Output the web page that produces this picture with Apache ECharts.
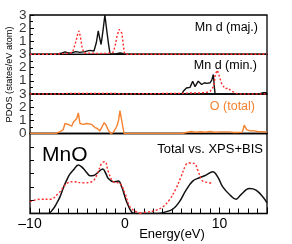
<!DOCTYPE html>
<html><head><meta charset="utf-8">
<script src="https://cdn.jsdelivr.net/npm/echarts@6/dist/echarts.min.js"></script>
<style>html,body{margin:0;padding:0;background:#fff}#c{width:292px;height:244px}</style>
</head><body><div id="c"></div>
<script>
// ---- data (energy in eV, PDOS) ----
const energyTicks = [-10, 0, 10];
const energyTickLabels = ['\u201310', '0', '10'];
const pdosTicks = [0, 1, 2, 3];

const mnMajCalc = [[-10,0],[-7.2,0],[-7.0,0.03],[-6.6,0.1],[-6.3,0.18],[-6.0,0.1],[-5.6,0.12],[-5.15,0.2],[-4.75,0.15],[-4.2,0.2],[-3.7,0.3],[-3.25,0.25],[-3.0,0.9],[-2.8,1.78],[-2.67,1.3],[-2.5,0.75],[-2.3,1.8],[-2.1,3.0],[-1.9,1.8],[-1.72,0.8],[-1.56,0.05],[-1.0,0.03],[-0.5,0.1],[0,0.02],[0.3,0],[15,0]];
const mnMajRef = [[-10,0],[-7.2,0],[-6.8,0.05],[-6.0,0.06],[-5.5,0.15],[-5.15,1.0],[-4.95,1.6],[-4.83,1.78],[-4.67,1.3],[-4.5,0.5],[-4.3,0.1],[-3.5,0.08],[-2.5,0.06],[-1.5,0.08],[-1.24,0.15],[-1.03,0.6],[-0.82,1.4],[-0.6,1.9],[-0.43,2.05],[-0.3,1.6],[-0.14,0.6],[-0.03,0.05],[0.2,0],[15,0]];

const mnMinCalc = [[-10,0],[-7,0],[-6,0.03],[-2,0.03],[0,0],[6.0,0],[6.17,0.2],[6.5,0.45],[6.88,0.5],[7.16,0.97],[7.41,0.55],[7.75,0.97],[8.11,0.72],[8.4,0.85],[8.64,0.8],[9.0,0.85],[9.17,1.05],[9.34,1.47],[9.45,0.5],[9.52,0.05],[12,0.03],[14.3,0.05],[14.6,0.1],[15,0.1]];
const mnMinRef = [[-10,0],[-7,0],[-6,0.04],[-1,0.04],[0,0],[6,0.05],[7,0.08],[8,0.08],[8.6,0.12],[9.0,0.2],[9.4,0.6],[9.55,1.5],[9.76,1.8],[9.95,1.4],[10.2,0.8],[10.57,0.4],[10.9,0.45],[11.2,0.25],[11.4,0.1],[11.8,0.03],[12.2,0],[15,0]];

const oTotal = [[-10,0],[-7.3,0],[-7.1,0.05],[-6.8,0.15],[-6.49,0.3],[-6.31,0.76],[-5.96,0.69],[-5.78,0.76],[-5.6,0.55],[-5.43,0.86],[-5.25,0.76],[-5.07,1.14],[-4.9,1.57],[-4.73,0.76],[-4.38,0.69],[-4.02,0.76],[-3.49,0.69],[-3.32,0.76],[-3.14,0.45],[-2.9,0.38],[-2.62,0.2],[-2.44,0.25],[-2.19,0.82],[-1.98,0.64],[-1.74,0.25],[-1.49,0],[-1.21,0.08],[-0.85,0.53],[-0.66,1.0],[-0.51,1.73],[-0.33,1.0],[-0.08,0],[6.0,0],[6.2,0.1],[7.0,0.15],[7.5,0.1],[8.0,0.13],[8.5,0.1],[9.0,0.15],[9.5,0.1],[10.0,0.12],[11.0,0.12],[11.5,0.08],[12.4,0.1],[12.6,0.63],[12.85,0.3],[13.2,0.2],[13.5,0.22],[14,0.15],[15,0.12]];

const totalCalc = [[-10,0],[-8.1,0],[-7.6,0.3],[-7.2,0.75],[-6.84,1.25],[-6.5,1.9],[-6.13,2.5],[-5.8,2.95],[-5.43,3.26],[-4.9,3.64],[-4.38,3.38],[-4.0,3.05],[-3.67,2.83],[-3.3,2.85],[-2.96,3.0],[-2.33,3.34],[-2.0,3.0],[-1.74,2.63],[-1.21,2.38],[-0.69,2.43],[-0.33,2.0],[0.2,0.87],[0.73,0.1],[1.2,0],[3.5,0],[4.3,0.12],[5.05,0.32],[5.75,0.87],[6.46,1.75],[7.16,2.43],[7.86,2.68],[8.57,2.88],[9.27,3.13],[9.8,2.75],[10.33,2.0],[11.2,1.32],[11.73,1.07],[12.26,1.42],[13.13,1.87],[13.84,1.75],[14.55,1.25],[15,0.8]];
const xps = [[-10,0.87],[-8.95,1.07],[-7.89,1.07],[-7.01,1.5],[-6.13,2.25],[-5.43,2.38],[-4.38,2.3],[-3.49,2.38],[-2.96,2.88],[-2.44,3.76],[-2.09,3.89],[-1.74,3.13],[-1.21,2.38],[-0.51,2.25],[0.02,1.5],[0.55,0.5],[1.26,0.1],[1.6,0.02]];
const bis = [[1.6,0.02],[2.24,0.1],[3.29,0.24],[4.0,0.5],[4.69,1.0],[5.4,1.87],[5.93,2.75],[6.46,3.68],[6.74,3.79],[7.33,3.75],[7.69,3.26],[8.22,2.43],[8.74,2.33],[9.27,2.25]];

// ---- chart ----
const FONT = 'Liberation Sans, Arial, sans-serif';
const BLACK = '#111', RED = '#ff2a2a', ORANGE = '#f5822f';
const L = 30, W = 237;
const gridBoxes = [
  {left:L, width:W, top:15, height:39.3},
  {left:L, width:W, top:54.3, height:39.7},
  {left:L, width:W, top:94, height:39.5},
  {left:L, width:W, top:133.5, height:80}
];
const grids = gridBoxes.map(g => Object.assign({show:true, borderColor:'#000', borderWidth:1.3, backgroundColor:'transparent'}, g));

const xAxes = grids.map((g,i) => ({
  gridIndex:i, type:'value', position:'bottom', min:-10, max:15, interval:10,
  axisLine:{show:false, onZero:false}, splitLine:{show:false},
  axisTick: i===3 ? {show:true, inside:true, length:6, lineStyle:{color:'#000'}} : {show:false},
  minorTick: i===3 ? {show:true, splitNumber:10, length:5, lineStyle:{color:'#000'}} : {show:false},
  axisLabel: i===3 ? {show:true, showMaxLabel:false, margin:4, fontFamily:FONT, fontSize:14, color:'#000',
    formatter: v => energyTickLabels[energyTicks.indexOf(v)] ?? ''} : {show:false}
}));

const yAxes = grids.map((g,i) => (i<3 ? {
  gridIndex:i, type:'value', position:'left', min:pdosTicks[0], max:pdosTicks[pdosTicks.length-1], interval:1,
  axisLine:{show:false, onZero:false}, splitLine:{show:false},
  axisTick:{show:true, inside:true, length:4, lineStyle:{color:'#000', width:1}},
  minorTick:{show:true, splitNumber:2, length:3, lineStyle:{color:'#000', width:1}},
  axisLabel:{show:false}
} : {
  gridIndex:i, type:'value', position:'left', min:0, max:6, interval:1,
  axisLine:{show:false, onZero:false}, splitLine:{show:false},
  axisTick:{show:true, inside:true, length:4, lineStyle:{color:'#000', width:1}},
  axisLabel:{show:false}
}));

function line(data, gi, color, dashed, smooth, w) {
  return {type:'line', xAxisIndex:gi, yAxisIndex:gi, data, symbol:'none', smooth: smooth||false,
    clip:true, animation:false,
    lineStyle:{color, width: w || 1.4, type: dashed ? [2,2] : 'solid'}};
}

// y tick labels: placed through each panel's own scales, at the left edge (E = -10)
function tickLabels(gi) {
  const vals = gi === 2 ? pdosTicks : pdosTicks.slice(1);
  return {type:'scatter', xAxisIndex:gi, yAxisIndex:gi, clip:false, silent:true, z:50,
    data: vals.map(v => [energyTicks[0], v]),
    symbol:'circle', symbolSize:1, itemStyle:{color:'rgba(0,0,0,0)'},
    label:{show:true, position:'left', distance:3, formatter: p => String(p.value[1]),
      fontFamily:FONT, fontSize:13.5, color:'#000'},
    labelLayout:{hideOverlap:false}};
}

const txt = (text, x, y, opts) => ({type:'text', x, y, z:100, silent:true,
  style:Object.assign({text, fontFamily:FONT, fontSize:12.5, fill:'#000', textAlign:'right', textVerticalAlign:'middle'}, opts||{})});

const chart = echarts.init(document.getElementById('c'), null, {renderer:'canvas'});
chart.setOption({
  animation:false,
  grid: grids, xAxis: xAxes, yAxis: yAxes,
  series: [
    line(mnMajCalc,0,BLACK,false),
    line(mnMajRef,0,RED,true),
    line(mnMinCalc,1,BLACK,false),
    line(mnMinRef,1,RED,true),
    line(oTotal,2,ORANGE,false),
    line(totalCalc,3,BLACK,false,0.4,1.5),
    line(xps,3,RED,true,0.4),
    line(bis,3,RED,true,0.4),
    tickLabels(0), tickLabels(1), tickLabels(2)
  ],
  graphic: [
    txt('Mn d (maj.)', 258, 28),
    txt('Mn d (min.)', 257, 66),
    txt('O (total)', 255, 107, {fill:ORANGE}),
    txt('Total vs. XPS+BIS', 263, 149, {fontSize:13}),
    txt('MnO', 42, 155, {fontSize:21, textAlign:'left'}),
    txt('Energy(eV)', 172, 234, {fontSize:13, textAlign:'center'}),
    {type:'text', x:9, y:74.5, rotation:Math.PI/2, z:100, silent:true,
     style:{text:'PDOS (states/eV atom)', fontFamily:FONT, fontSize:9.2, fill:'#000', textAlign:'center', textVerticalAlign:'middle'}}
  ]
});
</script></body></html>
